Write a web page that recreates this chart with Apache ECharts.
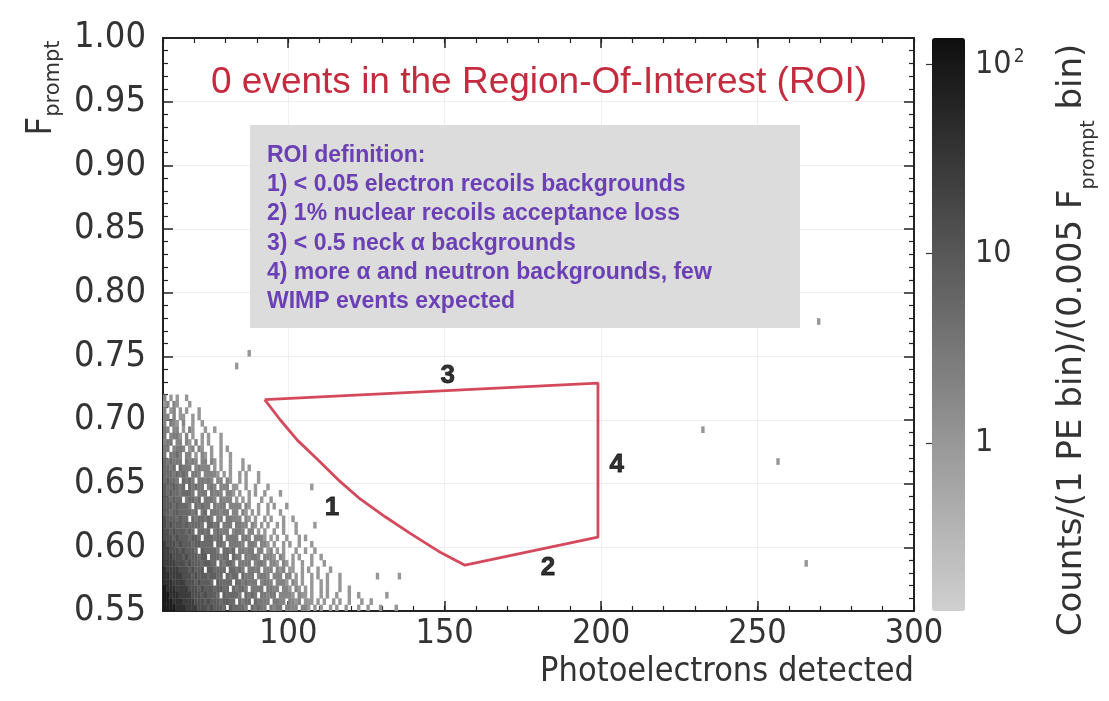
<!DOCTYPE html>
<html>
<head>
<meta charset="utf-8">
<style>
  html, body { margin: 0; padding: 0; background: #ffffff; }
  #chart { width: 1109px; height: 701px; }
</style>
<script src="https://cdn.jsdelivr.net/npm/echarts@6/dist/echarts.min.js"></script>
</head>
<body>
<div id="chart"></div>
<script>
// Binning of the 2D histogram: 1 PE x 0.005 Fprompt
const PE_BIN = 1;
const F_BIN = 0.005;
const PE_START = 60;

// Electron-recoil tail, one string per Fprompt row (top row = 0.715, bottom row = 0.550).
// Each character is one PE bin starting at 60 PE; '.' = empty, digits = count level.
const cloudRows = [
  "2.1.1..1",
  "12.21...1",
  "2.12.1.1...1",
  "22.2.11..1.1",
  "2.321.2..1..1",
  "32.22.1.21...1..1",
  "3.2331.2.1..1.1...1",
  "233.22.21.2.1.1...1",
  "33.2332.12.21..1..1.1",
  "3.3342.22.1.21.1..1..1",
  "434333.3232.22.21" + ".1..1...1",
  "4434.4333.23222.1.1" + "..1...1.1",
  "44434343.332.22221.1" + ".1..1.1...1",
  "45443.4343.33232.22.21" + "..1.1...1",
  "5445434.43433.232.222.1" + "1..1..1...1",
  "5454434443.333.3232.221.1" + "..1.1..1....1",
  "554544.34434.3332.3222.1.1" + ".1...1..1",
  "555454443.43433.3233.2222.21" + "..1..1.1...1",
  "55455444434.34.333233.22.21.1" + ".1..1...1",
  "65554544.4344343.33.33222.21.1" + "..1.1...1..1",
  "6565554544443.4434.333.3322.21.1" + ".1..1.1...1",
  "6656555454.4434.34333.2332.22.1.1" + "..1..1...1",
  "666565554554.444344.3333.332.2221.1" + ".1..1...1.1",
  "7666565554554444.443.33332.332.221.1" + "..1.1..1...1",
  "77666565554.544443.4434.33233.22.12.1" + ".1...1..1..1",
  "77766656555455.444344.433.32332.2221.21" + "..1.1...1..1",
  "77776665655545544.43443.3333.2332.221.21" + ".1..1..1...1",
  "8777766656555.554444.44343.3323.222.212.11" + "..1.1..1...1",
  "8877776665655545544.4344.4333.2332.222.22.1" + ".1..1.1..1...1",
  "8887777666565554.54444.4434333.2332.2221.21.1" + "..1..1.1...1",
  "988877776665655545544.43443.3333.3322.221.21.1" + ".1..1.1...1..1",
  "998887777666565554.544443.4343.33233.22221.211.1" + "..1.1..1...1..1",
  "99988877776665655545544.4344.43333.3322.2212.111.1" + ".1..1.1..1...1..1",
  "99998887777666565554.544443.43433.3233.2222.221.1.1" + "..1.1..1...1..1...1....1"
];
const cloudTopF = 0.715;
// counts per bin for each level digit
const levelCounts = [0, 1, 2, 3, 5, 8, 14, 25, 45, 90];

// isolated single events away from the main band
const strayPE = [269.5, 211.9, 232.7, 256.7, 265.7, 87.8, 83.7, 128.0, 135.5, 131.7, 107.7, 108.3];
const strayF  = [0.777, 0.777, 0.691, 0.667, 0.587, 0.753, 0.742, 0.577, 0.577, 0.562, 0.647, 0.617];

// ROI contour (Photoelectrons, Fprompt)
const roiPE = [92.5, 97.5, 103, 109, 116, 123, 131, 139, 148, 156.5, 199, 199, 92.5];
const roiF  = [0.716, 0.700, 0.684, 0.670, 0.653, 0.638, 0.624, 0.611, 0.597, 0.586, 0.608, 0.729, 0.716];

// numbered ROI boundary labels
const roiLabels = ['1', '2', '3', '4'];
const roiLabelPE = [114, 183, 151, 205];
const roiLabelF  = [0.631, 0.584, 0.735, 0.665];

// colour scale limits (counts)
const countMin = 0.13;
const countMax = 137;

const roiText = [
  'ROI definition:',
  '1) < 0.05 electron recoils backgrounds',
  '2) 1% nuclear recoils acceptance loss',
  '3) < 0.5 neck \u03b1 backgrounds',
  '4) more \u03b1 and neutron backgrounds, few',
  'WIMP events expected'
];

// ---- build histogram cells ----
const cells = [];
cloudRows.forEach((row, r) => {
  const fLow = +(cloudTopF - r * F_BIN).toFixed(3);
  for (let i = 0; i < row.length; i++) {
    const ch = row[i];
    if (ch === '.') continue;
    const n = levelCounts[+ch];
    cells.push([PE_START + i * PE_BIN, fLow, Math.log10(n)]);
  }
});
strayPE.forEach((pe, k) => {
  const peLow = Math.floor(pe / PE_BIN) * PE_BIN;
  const fLow = +(Math.floor(strayF[k] / F_BIN + 1e-9) * F_BIN).toFixed(3);
  cells.push([peLow, fLow, Math.log10(1)]);
});

const TICK_FONT = "'DejaVu Sans Condensed', 'DejaVu Sans', sans-serif";
const TITLE_FONT = "'DejaVu Sans', sans-serif";
const SANS = "'Liberation Sans', Arial, sans-serif";
const AX = '#222';

function frameAxis(extra) {
  return Object.assign({
    type: 'value',
    gridIndex: 0,
    axisLine: { show: true, lineStyle: { color: AX, width: 2 } },
    axisTick: { show: true, inside: true, length: 10, lineStyle: { color: AX, width: 1.5 } },
    axisLabel: { show: false },
    splitLine: { show: false }
  }, extra);
}
function minorAxis(extra) {
  return Object.assign({
    type: 'value',
    gridIndex: 0,
    axisLine: { show: false },
    axisTick: { show: true, inside: true, length: 5, lineStyle: { color: AX, width: 1.2 } },
    axisLabel: { show: false },
    splitLine: { show: false }
  }, extra);
}

const chart = echarts.init(document.getElementById('chart'), null, { renderer: 'canvas' });

const option = {
  animation: false,
  backgroundColor: '#ffffff',
  grid: [
    { left: 163, right: 195, top: 38, bottom: 90 },
    { left: 932, width: 33, top: 38, bottom: 90 }
  ],
  xAxis: [
    frameAxis({
      position: 'bottom', min: 60, max: 300, splitNumber: 5,
      axisLabel: { show: true, showMinLabel: false, fontSize: 34, color: '#333', fontFamily: TICK_FONT, margin: 6 },
      splitLine: { show: true, lineStyle: { color: '#efefef', width: 1 } },
      name: 'Photoelectrons detected',
      nameLocation: 'end',
      nameGap: 0,
      nameTextStyle: { fontSize: 34, color: '#333', fontFamily: TICK_FONT, align: 'right', verticalAlign: 'top', padding: [44, 0, 0, 0] }
    }),
    minorAxis({ position: 'bottom', min: 60, max: 300, interval: 10 }),
    frameAxis({ position: 'top', min: 60, max: 300, splitNumber: 5 }),
    minorAxis({ position: 'top', min: 60, max: 300, interval: 10 }),
    { type: 'value', gridIndex: 1, show: false, min: 0, max: 1 }
  ],
  yAxis: [
    frameAxis({
      position: 'left', min: 0.55, max: 1.0, interval: 0.05,
      axisLabel: { show: true, fontSize: 36, color: '#333', fontFamily: TICK_FONT, margin: 17,
        formatter: v => v.toFixed(2) },
      minorTick: { show: true, splitNumber: 5, length: 5, lineStyle: { color: AX, width: 1.2 } },
      splitLine: { show: true, lineStyle: { color: '#efefef', width: 1 } }
    }),
    frameAxis({
      position: 'right', min: 0.55, max: 1.0, interval: 0.05,
      minorTick: { show: true, splitNumber: 5, length: 5, lineStyle: { color: AX, width: 1.2 } }
    }),
    {
      type: 'log', logBase: 10, gridIndex: 1, position: 'right', z: 10,
      min: countMin, max: countMax,
      axisLine: { show: false },
      axisTick: { show: true, inside: true, length: 6, lineStyle: { color: '#333', width: 1.2 } },
      splitLine: { show: false },
      axisLabel: {
        show: true, showMinLabel: false, showMaxLabel: false, margin: 10,
        fontSize: 32, color: '#333', fontFamily: TICK_FONT,
        formatter: v => (Math.abs(v - 100) < 1e-6 ? '{b|10}{s|2}' : String(Math.round(v))),
        rich: {
          b: { fontSize: 32, color: '#333', fontFamily: TICK_FONT, verticalAlign: 'bottom' },
          s: { fontSize: 19, color: '#333', fontFamily: TICK_FONT, verticalAlign: 'top', padding: [0, 0, 14, 2] }
        }
      }
    }
  ],
  visualMap: {
    type: 'continuous',
    seriesIndex: 0,
    dimension: 2,
    min: Math.log10(countMin),
    max: Math.log10(countMax),
    orient: 'vertical',
    left: 932,
    top: 38,
    itemWidth: 33,
    itemHeight: 573,
    padding: 0,
    z: 2,
    text: ['', ''],
    calculable: false,
    hoverLink: false,
    inRange: { color: ['#d0d0d0', '#0e0e0e'] }
  },
  series: [
    {
      type: 'custom',
      name: 'events',
      xAxisIndex: 0,
      yAxisIndex: 0,
      clip: true,
      encode: { x: 0, y: 1 },
      data: cells,
      renderItem: function (params, api) {
        const pe = api.value(0);
        const f = api.value(1);
        const p = api.coord([pe, f + F_BIN]);
        const s = api.size([PE_BIN, F_BIN]);
        return {
          type: 'rect',
          shape: { x: p[0], y: p[1], width: s[0] + 0.3, height: s[1] + 0.3 },
          style: { fill: api.visual('color') }
        };
      }
    },
    {
      type: 'line',
      name: 'ROI',
      xAxisIndex: 0,
      yAxisIndex: 0,
      data: roiPE.map((x, i) => [x, roiF[i]]),
      symbol: 'none',
      lineStyle: { color: '#d4495b', width: 2.8 },
      z: 5
    },
    {
      type: 'scatter',
      name: 'ROI edges',
      xAxisIndex: 0,
      yAxisIndex: 0,
      symbolSize: 1,
      itemStyle: { color: 'rgba(0,0,0,0)' },
      data: roiLabels.map((t, i) => ({ name: t, value: [roiLabelPE[i], roiLabelF[i]] })),
      label: {
        show: true, position: 'inside', formatter: '{b}',
        fontSize: 26, fontWeight: 'bold', color: '#000000', fontFamily: SANS,
        textBorderColor: '#000000', textBorderWidth: 0.8
      },
      z: 6
    },
    { type: 'scatter', xAxisIndex: 4, yAxisIndex: 2, data: [] }
  ],
  graphic: [
    {
      type: 'text', x: 539, y: 83, z: 10,
      style: {
        text: '0 events in the Region-Of-Interest (ROI)',
        fill: '#c52b3e',
        fontSize: 37, fontFamily: SANS,
        align: 'center', verticalAlign: 'middle'
      }
    },
    {
      type: 'rect', z: 10,
      shape: { x: 250, y: 125, width: 550, height: 203 },
      style: { fill: '#dcdcdc' }
    },
    {
      type: 'text', x: 267, y: 141, z: 11,
      style: {
        text: roiText.join('\n'),
        fill: '#6a40b4',
        fontSize: 23, fontWeight: 'bold', fontFamily: SANS,
        lineHeight: 29.2,
        align: 'left', verticalAlign: 'top'
      }
    },
    {
      type: 'text', x: 42, y: 88, rotation: Math.PI / 2, z: 10,
      style: {
        text: '{f|F}{p|prompt}',
        align: 'center', verticalAlign: 'middle',
        rich: {
          f: { fontSize: 36, fill: '#333', fontFamily: TICK_FONT, lineHeight: 45, verticalAlign: 'middle' },
          p: { fontSize: 21, fill: '#333', fontFamily: TITLE_FONT, verticalAlign: 'bottom' }
        }
      }
    },
    {
      type: 'text', x: 1072, y: 340, rotation: Math.PI / 2, z: 10,
      style: {
        text: '{a|Counts/(1 PE bin)/(0.005 F}{s|prompt}{a| bin)}',
        align: 'center', verticalAlign: 'middle',
        rich: {
          a: { fontSize: 34, fill: '#333', fontFamily: TITLE_FONT, lineHeight: 54, verticalAlign: 'middle' },
          s: { fontSize: 19, fill: '#333', fontFamily: TITLE_FONT, verticalAlign: 'bottom' }
        }
      }
    }
  ]
};

chart.setOption(option);
</script>
</body>
</html>
